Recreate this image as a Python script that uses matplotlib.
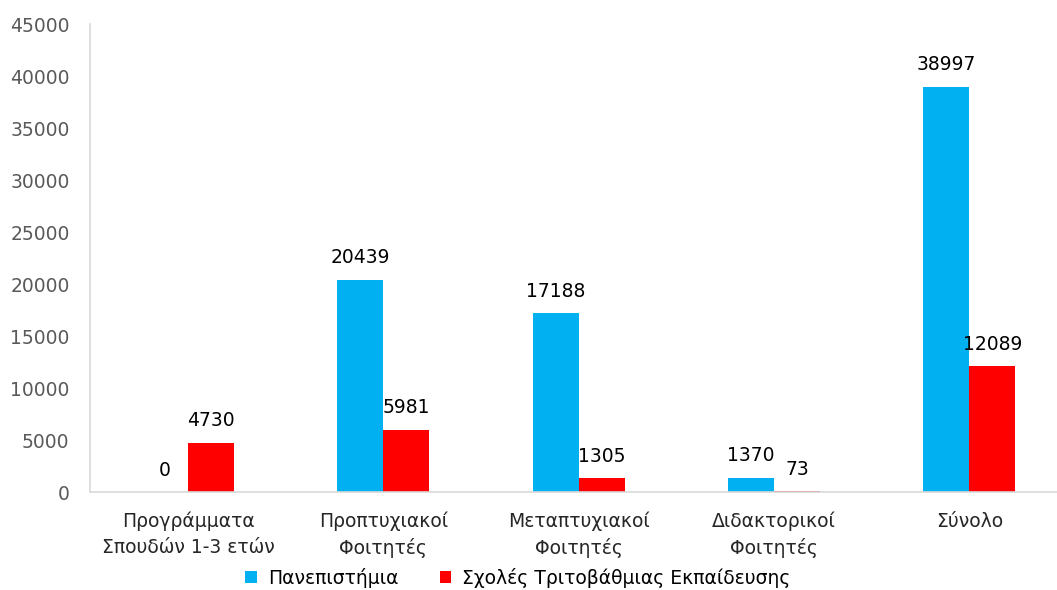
import numpy as np
import matplotlib.pyplot as plt

# Student counts by programme type
categories = ["Προγράμματα\nΣπουδών 1-3 ετών", "Προπτυχιακοί\nΦοιτητές",
              "Μεταπτυχιακοί\nΦοιτητές", "Διδακτορικοί\nΦοιτητές", "Σύνολο"]
universities = [0, 20439, 17188, 1370, 38997]
tei = [4730, 5981, 1305, 73, 12089]
series_names = ["Πανεπιστήμια", "Σχολές Τριτοβάθμιας Εκπαίδευσης"]
yticks = [0, 5000, 10000, 15000, 20000, 25000, 30000, 35000, 40000, 45000]

BLUE = "#00B0F0"
RED = "#FF0000"

plt.rcParams['font.family'] = ['DejaVu Sans']

fig = plt.figure(figsize=(10.57, 5.9), dpi=100)
ax = fig.add_axes([0.0855, 0.166, 0.924, 0.793])

x = np.arange(len(categories))
w = 0.236
b1 = ax.bar(x - w / 2, universities, w, color=BLUE, label=series_names[0])
b2 = ax.bar(x + w / 2, tei, w, color=RED, label=series_names[1])

for rect, v in zip(b1, universities):
    ax.text(rect.get_x() + rect.get_width() / 2, v + 1200, str(v),
            ha='center', va='bottom', fontsize=13.5, color='black')
for rect, v in zip(b2, tei):
    ax.text(rect.get_x() + rect.get_width() / 2, v + 1200, str(v),
            ha='center', va='bottom', fontsize=13.5, color='black')

ax.set_xlim(-0.5, len(categories) - 0.5)
ax.set_ylim(0, 45000)
ax.set_yticks(yticks)
ax.set_yticklabels([str(t) for t in yticks], fontsize=13.5, color='#595959')
ax.set_xticks(x)
ax.set_xticklabels(categories, fontsize=13.5, color='#262626', linespacing=1.45)
ax.tick_params(axis='y', length=0, pad=15)
ax.tick_params(axis='x', length=0, pad=14)

for s in ['top', 'right']:
    ax.spines[s].set_visible(False)
for s in ['left', 'bottom']:
    ax.spines[s].set_color('#D9D9D9')
    ax.spines[s].set_linewidth(1.2)

fig.legend(handles=[b1, b2], loc='lower center', bbox_to_anchor=(0.49, -0.025),
           ncol=2, frameon=False, fontsize=13.5, handlelength=0.6,
           handleheight=0.6, columnspacing=2.2, handletextpad=0.6)

fig.savefig("out.png", dpi=100)
